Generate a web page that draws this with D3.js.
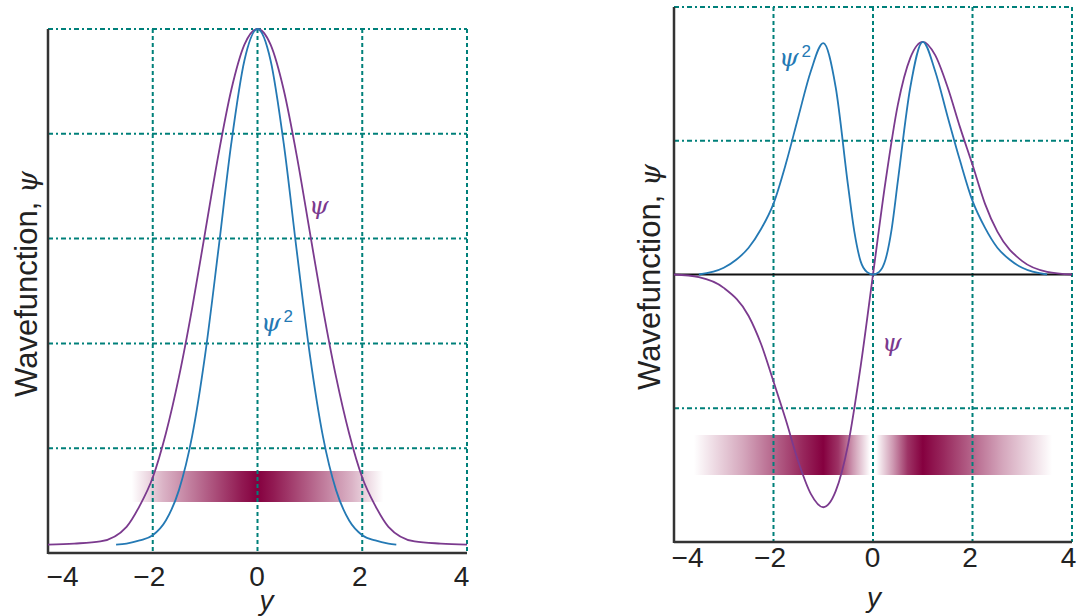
<!DOCTYPE html>
<html>
<head>
<meta charset="utf-8">
<script src="https://cdn.jsdelivr.net/npm/d3@7"></script>
<style>
  body { margin: 0; background: #fff; }
  svg { display: block; }
  .tick text { font-family: "Liberation Sans", Arial, sans-serif; font-size: 28px; fill: #222; }
</style>
</head>
<body>
<svg></svg>
<script>
// x positions and ticks
const xTicks = [-4, -2, 0, 2, 4];

// left panel: ground state, psi and psi^2 (grid units 0..5)
const leftGridY = [1, 2, 3, 4, 5];
const psi0X = [-4, -3.5, -3, -2.5, -2.25, -2, -1.75, -1.5, -1.25, -1, -0.75, -0.5, -0.25, 0, 0.25, 0.5, 0.75, 1, 1.25, 1.5, 1.75, 2, 2.25, 2.5, 3, 3.5, 4];
const psi0 = [0.08, 0.09, 0.11, 0.25, 0.45, 0.72, 1.14, 1.68, 2.33, 3.06, 3.79, 4.42, 4.85, 5.00, 4.85, 4.42, 3.79, 3.06, 2.33, 1.68, 1.14, 0.72, 0.45, 0.25, 0.11, 0.09, 0.08];
const psi0sqX = [-2.7, -2.5, -2.25, -2, -1.75, -1.5, -1.25, -1, -0.75, -0.5, -0.25, 0, 0.25, 0.5, 0.75, 1, 1.25, 1.5, 1.75, 2, 2.25, 2.5, 2.65];
const psi0sq = [0.08, 0.09, 0.12, 0.17, 0.31, 0.60, 1.11, 1.89, 2.88, 3.91, 4.70, 5.00, 4.70, 3.91, 2.88, 1.89, 1.11, 0.60, 0.31, 0.17, 0.12, 0.09, 0.08];

// right panel: first excited state (grid units -2..2)
const rightGridY = [-1, 1, 2];
const psi1X = [-4, -3.5, -3, -2.5, -2.25, -2, -1.75, -1.5, -1.25, -1, -0.75, -0.5, -0.25, 0, 0.25, 0.5, 0.75, 1, 1.25, 1.5, 1.75, 2, 2.25, 2.5, 3, 3.5, 4];
const psi1 = [0, -0.02, -0.10, -0.31, -0.52, -0.80, -1.09, -1.40, -1.64, -1.74, -1.62, -1.27, -0.69, 0, 0.69, 1.27, 1.62, 1.74, 1.64, 1.40, 1.10, 0.82, 0.53, 0.32, 0.10, 0.02, 0];
const psi1sqX = [-3.5, -3, -2.75, -2.5, -2.25, -2, -1.75, -1.5, -1.25, -1, -0.75, -0.5, -0.375, -0.25, -0.125, 0, 0.125, 0.25, 0.375, 0.5, 0.75, 1, 1.25, 1.5, 1.75, 2, 2.25, 2.5, 2.75, 3, 3.5];
const psi1sq = [0, 0.05, 0.11, 0.20, 0.34, 0.53, 0.83, 1.18, 1.52, 1.73, 1.40, 0.66, 0.32, 0.10, 0.02, 0, 0.02, 0.11, 0.34, 0.70, 1.40, 1.74, 1.52, 1.18, 0.85, 0.55, 0.35, 0.20, 0.11, 0.05, 0];

// probability bands: [x position, darkness]
const band0 = [[-2.4, 0], [-1.8, 0.3], [-1, 0.62], [-0.3, 0.9], [0, 1], [0.3, 0.9], [1, 0.62], [1.8, 0.3], [2.4, 0]];
const band1L = [[-3.6, 0], [-2.6, 0.35], [-2, 0.6], [-1.4, 0.85], [-1, 1], [-0.7, 0.8], [-0.4, 0.4], [-0.06, 0]];
const band1R = [[0.06, 0], [0.4, 0.4], [0.7, 0.8], [1, 1], [1.4, 0.85], [2, 0.6], [2.6, 0.35], [3.6, 0]];

const purple = "#7b3a8e", blue = "#2479b4", teal = "#00807a", wine = "#85003f";

const svg = d3.select("svg").attr("width", 1077).attr("height", 616);
const defs = svg.append("defs");

function gradient(id, stops, x) {
  const g = defs.append("linearGradient").attr("id", id)
    .attr("gradientUnits", "userSpaceOnUse")
    .attr("x1", x(stops[0][0])).attr("x2", x(stops[stops.length - 1][0]))
    .attr("y1", 0).attr("y2", 0);
  const x0 = stops[0][0], span = stops[stops.length - 1][0] - x0;
  g.selectAll("stop").data(stops).join("stop")
    .attr("offset", d => (d[0] - x0) / span)
    .attr("stop-color", wine)
    .attr("stop-opacity", d => d[1]);
}

function panel(opt) {
  const x = d3.scaleLinear().domain([-4, 4]).range(opt.xr);
  const y = d3.scaleLinear().domain(opt.yd).range(opt.yr);
  const g = svg.append("g");

  // bands under grid
  opt.bands.forEach((b, i) => {
    const id = opt.id + "b" + i;
    gradient(id, b, x);
    g.append("rect")
      .attr("x", x(b[0][0])).attr("width", x(b[b.length - 1][0]) - x(b[0][0]))
      .attr("y", opt.bandY[0]).attr("height", opt.bandY[1] - opt.bandY[0])
      .attr("fill", "url(#" + id + ")");
  });

  // grid
  g.selectAll(".vg").data([-2, 0, 2, 4]).join("line")
    .attr("x1", d => x(d)).attr("x2", d => x(d))
    .attr("y1", opt.yr[1]).attr("y2", opt.yr[0])
    .attr("stroke", teal).attr("stroke-width", 2).attr("stroke-dasharray", "4,3");
  g.selectAll(".hg").data(opt.gridY).join("line")
    .attr("x1", opt.xr[0]).attr("x2", opt.xr[1])
    .attr("y1", d => y(d)).attr("y2", d => y(d))
    .attr("stroke", teal).attr("stroke-width", 2).attr("stroke-dasharray", "5,3,2,3");

  // axes
  g.append("line").attr("x1", opt.xr[0]).attr("x2", opt.xr[0])
    .attr("y1", opt.yr[1]).attr("y2", opt.yr[0] + 1)
    .attr("stroke", "#333").attr("stroke-width", 2.5);
  g.append("line").attr("x1", opt.xr[0]).attr("x2", opt.xr[1])
    .attr("y1", opt.yr[0]).attr("y2", opt.yr[0])
    .attr("stroke", "#333").attr("stroke-width", 2.5);
  if (opt.zero) {
    g.append("line").attr("x1", opt.xr[0]).attr("x2", opt.xr[1])
      .attr("y1", y(0)).attr("y2", y(0))
      .attr("stroke", "#111").attr("stroke-width", 2.2);
  }

  const ax = g.append("g")
    .attr("transform", "translate(0," + opt.yr[0] + ")")
    .call(d3.axisBottom(x).tickValues(xTicks).tickSize(0).tickPadding(opt.pad));
  ax.select(".domain").remove();
  ax.selectAll(".tick text")
    .attr("dx", d => d === -4 ? opt.edge[0] : d === 4 ? opt.edge[1] : (d === -2 ? -4 : d === 2 ? -3 : -1));

  // curves
  const line = d3.line().curve(d3.curveMonotoneX)
    .x(d => x(d[0])).y(d => y(d[1]));
  opt.curves.forEach(c => {
    g.append("path").datum(d3.zip(c.xs, c.ys))
      .attr("fill", "none").attr("stroke", c.color)
      .attr("stroke-width", 1.8).attr("d", line);
  });

  // labels
  g.append("text")
    .attr("transform", "translate(" + opt.ylab[0] + "," + opt.ylab[1] + ") rotate(-90)")
    .attr("text-anchor", "middle")
    .style("font-family", "Liberation Sans, Arial, sans-serif").style("font-size", "31px").attr("fill", "#222")
    .text("Wavefunction, ")
    .append("tspan").style("font-family", "DejaVu Serif, serif").style("font-style", "italic").style("font-size", "28px").text("ψ");
  g.append("text").attr("x", (opt.xr[0] + opt.xr[1]) / 2 + opt.xlab[0]).attr("y", opt.xlab[1])
    .attr("text-anchor", "middle")
    .style("font-family", "Liberation Sans, Arial, sans-serif").style("font-style", "italic").style("font-size", "28px").attr("fill", "#222")
    .text("y");
  opt.tags.forEach(t => {
    const tx = g.append("text").attr("x", t.x).attr("y", t.y).attr("fill", t.color)
      .style("font-family", "DejaVu Serif, serif").style("font-style", "italic").style("font-size", "25px")
      .text("ψ");
    if (t.sq) tx.append("tspan").attr("dx", 3).attr("dy", -9).style("font-style", "normal")
      .style("font-family", "Liberation Sans, Arial, sans-serif").style("font-size", "17px").text("2");
  });
}

panel({
  id: "L", xr: [48, 467], yd: [0, 5], yr: [553, 29], gridY: leftGridY,
  bands: [band0], bandY: [471, 502], pad: 13, edge: [14, -6],
  curves: [{ xs: psi0X, ys: psi0, color: purple }, { xs: psi0sqX, ys: psi0sq, color: blue }],
  ylab: [37, 284], xlab: [9, 610],
  tags: [{ x: 309, y: 214, color: purple }, { x: 261, y: 331, color: blue, sq: true }]
});

panel({
  id: "R", xr: [674, 1072], yd: [-2, 2], yr: [542, 7], gridY: rightGridY, zero: true,
  bands: [band1L, band1R], bandY: [435, 475], pad: 5, edge: [13, -4],
  curves: [{ xs: psi1X, ys: psi1, color: purple }, { xs: psi1sqX, ys: psi1sq, color: blue }],
  ylab: [660, 277], xlab: [1, 607],
  tags: [{ x: 779, y: 66, color: blue, sq: true }, { x: 882, y: 351, color: purple }]
});
</script>
</body>
</html>
